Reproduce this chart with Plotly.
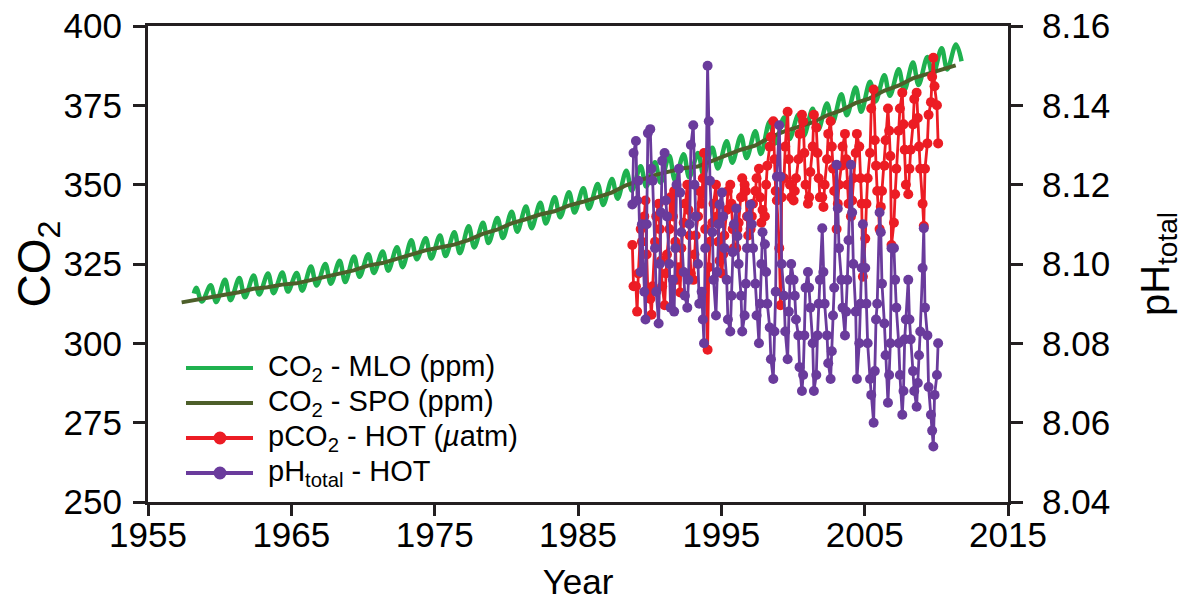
import plotly.graph_objects as go

# ---------------- data ----------------
# Mauna Loa (MLO) CO2, ppm: seasonal maxima (May) and minima (Sep/Oct), 1958-2011
mlo_years = list(range(1958, 2012))
mlo_may = [317.5, 318.3, 320.0, 320.6, 321.4, 322.0, 322.3, 322.2, 324.2, 325.0,
           326.0, 327.4, 328.1, 328.9, 330.3, 332.5, 333.1, 334.0, 335.0, 336.9,
           338.0, 339.5, 341.5, 343.1, 344.3, 346.0, 347.6, 348.9, 350.2, 351.8,
           354.4, 355.8, 357.1, 359.1, 359.6, 360.0, 361.6, 363.7, 365.4, 366.8,
           369.9, 371.2, 372.0, 373.9, 375.6, 378.5, 380.6, 382.4, 384.5, 386.4,
           388.5, 390.2, 393.0, 394.2]
mlo_oct = [313.2, 313.0, 313.6, 314.5, 315.4, 315.8, 316.3, 316.6, 318.2, 318.8,
           319.3, 321.0, 322.2, 322.9, 324.0, 326.5, 326.7, 327.5, 328.4, 330.2,
           331.6, 333.2, 335.2, 336.3, 337.8, 339.7, 341.2, 342.4, 343.6, 345.6,
           348.1, 349.4, 350.6, 351.4, 352.3, 353.0, 355.1, 356.9, 358.4, 359.7,
           363.0, 364.4, 365.4, 367.2, 369.5, 371.9, 373.0, 376.2, 378.0, 379.7,
           381.4, 384.4, 386.3, 388.9]
mlo_first = (1958.2, 315.7)

# South Pole (SPO) CO2, ppm, 1957-2011
spo_years = list(range(1957, 2012))
spo_co2 = [312.9, 313.6, 314.4, 315.3, 316.1, 317.2, 317.7, 318.5, 318.9, 319.9,
           320.7, 321.9, 323.0, 324.5, 325.3, 326.6, 327.9, 329.3, 330.2, 331.1,
           332.5, 334.5, 335.8, 337.8, 339.1, 340.6, 341.6, 343.4, 344.6, 346.2,
           347.5, 349.8, 351.5, 353.0, 354.1, 355.2, 355.7, 357.5, 359.2, 361.0,
           362.3, 364.8, 366.7, 368.3, 369.6, 371.8, 373.4, 375.7, 377.2, 379.6,
           381.2, 383.5, 384.9, 386.3, 387.6]

# HOT (Station ALOHA) cruises: year -> (months, pCO2 uatm, pH total)
hot_full_months = [1, 2, 3, 5, 6, 8, 9, 10, 11]
hot_cruises = {
    1988: ([10, 11], [331, 318], [8.115, 8.128]),
    1989: (hot_full_months, [318, 310, 322, 336, 332, 340, 345, 328, 316],
           [8.131, 8.116, 8.121, 8.098, 8.110, 8.093, 8.086, 8.110, 8.133]),
    1990: (hot_full_months, [314, 309, 318, 332, 340, 344, 336, 326, 318],
           [8.134, 8.124, 8.121, 8.104, 8.093, 8.085, 8.100, 8.113, 8.126]),
    1991: (hot_full_months, [312, 322, 328, 336, 346, 340, 348, 332, 320],
           [8.128, 8.116, 8.112, 8.100, 8.089, 8.096, 8.088, 8.104, 8.120]),
    1992: (hot_full_months, [324, 316, 330, 338, 344, 350, 342, 334, 322],
           [8.124, 8.118, 8.108, 8.098, 8.092, 8.089, 8.096, 8.110, 8.130]),
    1993: (hot_full_months, [320, 328, 334, 340, 348, 344, 352, 360, 336],
           [8.135, 8.120, 8.112, 8.100, 8.090, 8.093, 8.086, 8.080, 8.104]),
    1994: (hot_full_months, [298, 324, 332, 338, 344, 350, 340, 332, 326],
           [8.150, 8.136, 8.121, 8.108, 8.096, 8.087, 8.098, 8.110, 8.115]),
    1995: (hot_full_months, [322, 328, 334, 342, 348, 350, 344, 336, 330],
           [8.118, 8.112, 8.104, 8.096, 8.086, 8.083, 8.092, 8.103, 8.110]),
    1996: (hot_full_months, [330, 336, 338, 346, 352, 350, 348, 340, 334],
           [8.114, 8.107, 8.100, 8.092, 8.083, 8.087, 8.095, 8.104, 8.112]),
    1997: (hot_full_months, [336, 340, 344, 348, 352, 355, 346, 338, 342],
           [8.115, 8.110, 8.104, 8.095, 8.087, 8.080, 8.090, 8.100, 8.108]),
    1998: (hot_full_months, [340, 350, 356, 362, 365, 370, 358, 348, 345],
           [8.105, 8.098, 8.090, 8.084, 8.076, 8.071, 8.083, 8.093, 8.122]),
    1999: (hot_full_months, [330, 312, 346, 352, 362, 373, 358, 350, 346],
           [8.135, 8.122, 8.100, 8.092, 8.083, 8.076, 8.088, 8.096, 8.100]),
    2000: (hot_full_months, [345, 348, 352, 358, 366, 372, 370, 360, 350],
           [8.096, 8.092, 8.086, 8.082, 8.074, 8.068, 8.072, 8.082, 8.094]),
    2001: (hot_full_months, [344, 346, 354, 362, 372, 368, 360, 352, 346],
           [8.098, 8.094, 8.089, 8.080, 8.068, 8.072, 8.082, 8.090, 8.096]),
    2002: (hot_full_months, [346, 343, 350, 358, 366, 370, 362, 355, 348],
           [8.109, 8.098, 8.090, 8.082, 8.075, 8.071, 8.078, 8.087, 8.094]),
    2003: (hot_full_months, [336, 344, 350, 356, 362, 366, 358, 350, 344],
           [8.125, 8.114, 8.104, 8.096, 8.089, 8.082, 8.088, 8.096, 8.106]),
    2004: (hot_full_months, [340, 345, 352, 360, 366, 362, 352, 344, 321],
           [8.125, 8.113, 8.100, 8.088, 8.071, 8.080, 8.090, 8.099, 8.110]),
    2005: (hot_full_months, [333, 344, 352, 360, 374, 380, 364, 356, 348],
           [8.099, 8.090, 8.080, 8.071, 8.067, 8.060, 8.073, 8.086, 8.090]),
    2006: (hot_full_months, [336, 343, 348, 356, 364, 374, 367, 359, 331],
           [8.113, 8.108, 8.095, 8.085, 8.077, 8.065, 8.072, 8.080, 8.104]),
    2007: (hot_full_months, [338, 347, 355, 367, 374, 379, 369, 361, 350],
           [8.104, 8.096, 8.089, 8.080, 8.072, 8.062, 8.068, 8.081, 8.086]),
    2008: (hot_full_months, [347, 355, 361, 369, 377, 379, 371, 362, 355],
           [8.096, 8.086, 8.081, 8.073, 8.068, 8.064, 8.070, 8.077, 8.083]),
    2009: (hot_full_months, [344, 337, 355, 363, 372, 376, 384, 390, 381],
           [8.099, 8.109, 8.089, 8.082, 8.069, 8.062, 8.058, 8.054, 8.067]),
    2010: ([1, 2], [375, 363], [8.072, 8.080]),
}

x_ticks = [1955, 1965, 1975, 1985, 1995, 2005, 2015]
co2_ticks = [250, 275, 300, 325, 350, 375, 400]
ph_ticks = [8.04, 8.06, 8.08, 8.10, 8.12, 8.14, 8.16]

legend_labels = ["CO<sub>2</sub> - MLO (ppm)", "CO<sub>2</sub> - SPO (ppm)",
                 "pCO<sub>2</sub> - HOT (<i>µ</i>atm)", "pH<sub>total</sub> - HOT"]

# ---------------- assemble series ----------------
mlo_t = [mlo_first[0]]
mlo_v = [mlo_first[1]]
for yr, hi, lo in zip(mlo_years, mlo_may, mlo_oct):
    mlo_t += [yr + 0.37, yr + 0.76]
    mlo_v += [hi, lo]

spo_t = [yr + 0.35 for yr in spo_years]

hot_t, hot_pco2, hot_ph = [], [], []
for yr, (months, pc, ph) in hot_cruises.items():
    for m, a, b in zip(months, pc, ph):
        hot_t.append(yr + (m - 0.5) / 12)
        hot_pco2.append(a)
        hot_ph.append(b)

GREEN = "#1fb14f"
OLIVE = "#4d5f2a"
RED = "#ec1c24"
PURPLE = "#6a3b9c"
AX = "#231f20"
FONT = "Liberation Sans, Arial, Helvetica, sans-serif"

fig = go.Figure()
fig.add_trace(go.Scatter(x=mlo_t, y=mlo_v, mode="lines", name="MLO",
                         line=dict(color=GREEN, width=4.5, shape="spline", smoothing=1)))
fig.add_trace(go.Scatter(x=spo_t, y=spo_co2, mode="lines", name="SPO",
                         line=dict(color=OLIVE, width=4)))
fig.add_trace(go.Scatter(x=hot_t, y=hot_pco2, mode="lines+markers", name="pCO2",
                         line=dict(color=RED, width=2.8),
                         marker=dict(color=RED, size=10)))
fig.add_trace(go.Scatter(x=hot_t, y=hot_ph, mode="lines+markers", name="pH", yaxis="y2",
                         line=dict(color=PURPLE, width=2.8),
                         marker=dict(color=PURPLE, size=10)))

# ---------------- layout geometry (page body has an 8 px margin) ----------------
OFF = 8
FIG_W, FIG_H = 1192 - OFF, 601 - OFF
plot_l, plot_r, plot_t, plot_b = 148 - OFF, 1008 - OFF, 26 - OFF, 502 - OFF


def px2paper(x, y):
    # x, y in screen pixels
    x -= OFF
    y -= OFF
    return (x - plot_l) / (plot_r - plot_l), (plot_b - y) / (plot_b - plot_t)


shapes = []
annotations = []
leg_rows = [368, 403, 438, 473]
leg_colors = [GREEN, OLIVE, RED, PURPLE]
for i, (yy, col, lab) in enumerate(zip(leg_rows, leg_colors, legend_labels)):
    x0, y0 = px2paper(186, yy)
    x1, _ = px2paper(253, yy)
    shapes.append(dict(type="line", xref="paper", yref="paper", x0=x0, x1=x1,
                       y0=y0, y1=y0, line=dict(color=col, width=4)))
    if i >= 2:
        xc, _ = px2paper(220, yy)
        shapes.append(dict(type="circle", xref="paper", yref="paper",
                           xsizemode="pixel", ysizemode="pixel",
                           xanchor=xc, yanchor=y0, x0=-6.5, x1=6.5, y0=-6.5, y1=6.5,
                           fillcolor=col, line=dict(color=col, width=0)))
    xt, _ = px2paper(266, yy)
    annotations.append(dict(text=lab, xref="paper", yref="paper", x=xt, y=y0,
                            xanchor="left", yanchor="middle", showarrow=False,
                            font=dict(size=29, color="black", family=FONT)))

fig.update_layout(
    width=FIG_W, height=FIG_H,
    margin=dict(l=plot_l, r=FIG_W - plot_r, t=plot_t, b=FIG_H - plot_b),
    paper_bgcolor="white", plot_bgcolor="white",
    showlegend=False,
    font=dict(family=FONT, color="black", size=35),
    shapes=shapes, annotations=annotations,
    xaxis=dict(range=[1955, 2015], tickvals=x_ticks, showgrid=False, zeroline=False,
               automargin=False, ticklabeloverflow="allow",
               showline=True, linecolor=AX, linewidth=3, mirror=True,
               ticks="outside", ticklen=11, tickwidth=3, tickcolor=AX,
               tickfont=dict(size=35), ticklabelstandoff=-11,
               title=dict(text="Year", font=dict(size=35), standoff=28)),
    yaxis=dict(range=[250, 400], tickvals=co2_ticks, showgrid=False, zeroline=False,
               automargin=False, ticklabeloverflow="allow",
               showline=True, linecolor=AX, linewidth=3,
               ticks="outside", ticklen=12, tickwidth=3, tickcolor=AX,
               tickfont=dict(size=35), ticklabelstandoff=4,
               title=dict(text="CO<sub>2</sub>", font=dict(size=46), standoff=24)),
    yaxis2=dict(range=[8.04, 8.16], tickvals=ph_ticks, tickformat=".2f",
                overlaying="y", side="right", showgrid=False, zeroline=False,
                automargin=False, ticklabeloverflow="allow",
                showline=True, linecolor=AX, linewidth=3,
                ticks="outside", ticklen=12, tickwidth=3, tickcolor=AX,
                tickfont=dict(size=35), ticklabelstandoff=12,
                title=dict(text="pH<sub>total</sub>", font=dict(size=40), standoff=32)),
)

fig.write_html("out.html")
